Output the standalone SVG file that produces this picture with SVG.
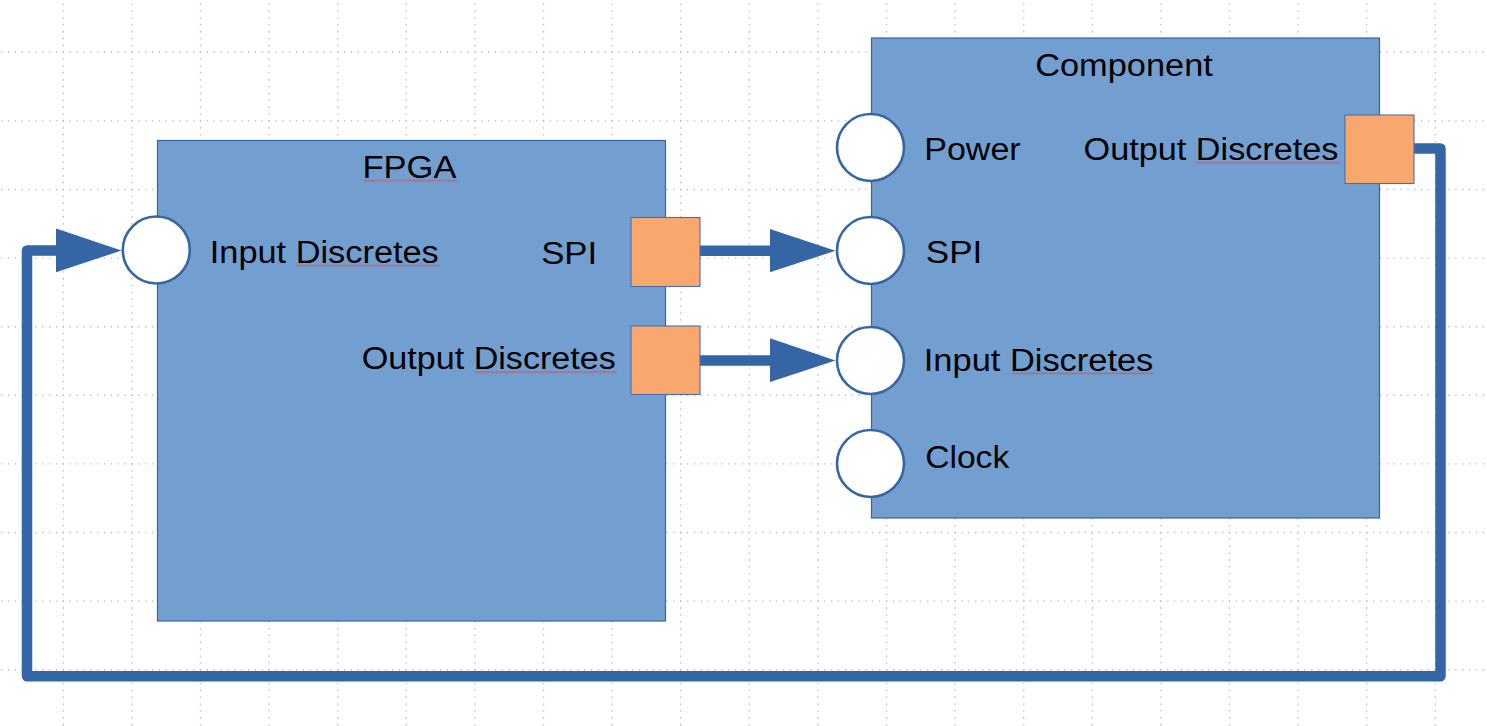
<svg xmlns="http://www.w3.org/2000/svg" width="1487" height="726" viewBox="0 0 1487 726">
<defs>
<style>
.grid line{stroke:#b9b9b9;stroke-width:1.4;stroke-dasharray:1.3 5.56;fill:none}
.box{fill:#729fcf;stroke:#3465a4;stroke-width:1.2}
.in{fill:#ffffff;stroke:#3465a4;stroke-width:2.6}
.out{fill:#f8a86f;stroke:#4a6fa6;stroke-width:1.1}
.lbl{font-family:"Liberation Sans",Arial,sans-serif;font-size:31px;fill:#000000}
.conn{fill:none;stroke:#3465a4;stroke-width:10.5;stroke-linejoin:round}
.head{fill:#3465a4;stroke:none}
</style>
<pattern id="wave" width="4" height="3" patternUnits="userSpaceOnUse">
<path d="M0,2.5 L2,0.5 L4,2.5" fill="none" stroke="#ff2020" stroke-width="0.75"/>
</pattern>
</defs>
<rect width="1487" height="726" fill="#ffffff"/>
<g class="grid">
<line x1="63.3" y1="-16.9" x2="63.3" y2="740"/>
<line x1="131.9" y1="-16.9" x2="131.9" y2="740"/>
<line x1="200.5" y1="-16.9" x2="200.5" y2="740"/>
<line x1="269.1" y1="-16.9" x2="269.1" y2="740"/>
<line x1="337.7" y1="-16.9" x2="337.7" y2="740"/>
<line x1="406.3" y1="-16.9" x2="406.3" y2="740"/>
<line x1="474.9" y1="-16.9" x2="474.9" y2="740"/>
<line x1="543.5" y1="-16.9" x2="543.5" y2="740"/>
<line x1="612.1" y1="-16.9" x2="612.1" y2="740"/>
<line x1="680.7" y1="-16.9" x2="680.7" y2="740"/>
<line x1="749.3" y1="-16.9" x2="749.3" y2="740"/>
<line x1="817.9" y1="-16.9" x2="817.9" y2="740"/>
<line x1="886.5" y1="-16.9" x2="886.5" y2="740"/>
<line x1="955.1" y1="-16.9" x2="955.1" y2="740"/>
<line x1="1023.7" y1="-16.9" x2="1023.7" y2="740"/>
<line x1="1092.3" y1="-16.9" x2="1092.3" y2="740"/>
<line x1="1160.9" y1="-16.9" x2="1160.9" y2="740"/>
<line x1="1229.5" y1="-16.9" x2="1229.5" y2="740"/>
<line x1="1298.1" y1="-16.9" x2="1298.1" y2="740"/>
<line x1="1366.7" y1="-16.9" x2="1366.7" y2="740"/>
<line x1="1435.3" y1="-16.9" x2="1435.3" y2="740"/>
<line x1="-5.9" y1="52.3" x2="1500" y2="52.3"/>
<line x1="-5.9" y1="120.9" x2="1500" y2="120.9"/>
<line x1="-5.9" y1="189.5" x2="1500" y2="189.5"/>
<line x1="-5.9" y1="258.1" x2="1500" y2="258.1"/>
<line x1="-5.9" y1="326.7" x2="1500" y2="326.7"/>
<line x1="-5.9" y1="395.3" x2="1500" y2="395.3"/>
<line x1="-5.9" y1="463.9" x2="1500" y2="463.9"/>
<line x1="-5.9" y1="532.5" x2="1500" y2="532.5"/>
<line x1="-5.9" y1="601.1" x2="1500" y2="601.1"/>
<line x1="-5.9" y1="669.7" x2="1500" y2="669.7"/>
</g>
<g id="fpga">
<rect class="box" x="157.5" y="140.5" width="508" height="480.5"/>
<text class="lbl" x="362.5" y="178.3" textLength="94" lengthAdjust="spacingAndGlyphs">FPGA</text>
<g transform="translate(364,179.3)"><rect width="94" height="3" fill="url(#wave)"/></g>
</g>
<g id="component">
<rect class="box" x="871.5" y="38" width="508" height="480"/>
<text class="lbl" x="1035.2" y="75.7" textLength="177.7" lengthAdjust="spacingAndGlyphs">Component</text>
</g>
<g id="connectors">
<path class="conn" d="M699,250.7 H775"/>
<polygon class="head" points="770,229 835.5,250.7 770,272.3"/>
<path class="conn" d="M699,360.5 H775"/>
<polygon class="head" points="770,338.2 835.5,360.5 770,382"/>
<path class="conn" d="M1413,148.5 H1440.5 V676.3 H27 V250.5 H60"/>
<polygon class="head" points="56,228.5 121.5,250.5 56,272.3"/>
</g>
<g id="fpga-input-discretes">
<circle class="in" cx="156.3" cy="250" r="33.5"/>
<text class="lbl" x="209.8" y="263" textLength="229" lengthAdjust="spacingAndGlyphs">Input Discretes</text>
<g transform="translate(296,264.3)"><rect width="144" height="3" fill="url(#wave)"/></g>
</g>
<g id="fpga-spi">
<rect class="out" x="631" y="217.5" width="69" height="69"/>
<text class="lbl" x="541.2" y="264" textLength="56" lengthAdjust="spacingAndGlyphs">SPI</text>
</g>
<g id="fpga-output-discretes">
<rect class="out" x="631" y="326" width="69" height="68.5"/>
<text class="lbl" x="361.8" y="369.3" textLength="254" lengthAdjust="spacingAndGlyphs">Output Discretes</text>
<g transform="translate(474.5,370.6)"><rect width="142" height="3" fill="url(#wave)"/></g>
</g>
<g id="component-power">
<circle class="in" cx="870.5" cy="147.5" r="33.5"/>
<text class="lbl" x="924.2" y="160" textLength="96.5" lengthAdjust="spacingAndGlyphs">Power</text>
</g>
<g id="component-output-discretes">
<rect class="out" x="1345" y="115" width="69" height="68.5"/>
<text class="lbl" x="1083.5" y="160" textLength="255" lengthAdjust="spacingAndGlyphs">Output Discretes</text>
<g transform="translate(1195.5,161.3)"><rect width="143.5" height="3" fill="url(#wave)"/></g>
</g>
<g id="component-spi">
<circle class="in" cx="870.5" cy="250.5" r="33.5"/>
<text class="lbl" x="925.8" y="263.3" textLength="56.4" lengthAdjust="spacingAndGlyphs">SPI</text>
</g>
<g id="component-input-discretes">
<circle class="in" cx="870.5" cy="360.5" r="33.5"/>
<text class="lbl" x="923.8" y="370.7" textLength="229.5" lengthAdjust="spacingAndGlyphs">Input Discretes</text>
<g transform="translate(1012,372)"><rect width="142" height="3" fill="url(#wave)"/></g>
</g>
<g id="component-clock">
<circle class="in" cx="870.5" cy="463.5" r="33.5"/>
<text class="lbl" x="925.2" y="468.3" textLength="84" lengthAdjust="spacingAndGlyphs">Clock</text>
</g>
</svg>
